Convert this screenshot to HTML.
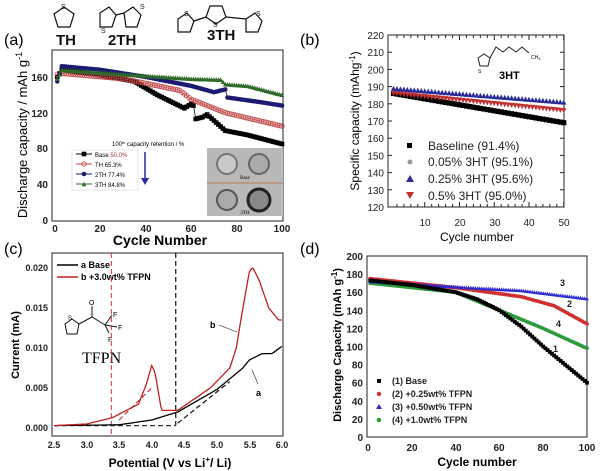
<!DOCTYPE html>
<html><head><meta charset="utf-8"><style>
html,body{margin:0;padding:0;background:#fff;}
svg{display:block;font-family:"Liberation Sans",Arial,sans-serif;}
</style></head><body>
<svg id="s" width="600" height="471" viewBox="0 0 600 471" xmlns="http://www.w3.org/2000/svg">
<rect width="600" height="471" fill="#fff"/>
<!-- molecules -->
<g fill="none" stroke="#111" stroke-width="1.2">
<polygon points="64,7 74,14 70,27 58,27 54,14"/>
<polygon points="100,13 109,7 116,15 112,27 100,27"/><polygon points="124,13 133,7 141,15 137,27 126,27"/><line x1="116" y1="15" x2="124" y2="13"/>
<polygon points="178,19 187,13 194,21 190,32 178,32"/><polygon points="210,6 222,6 226,17 216,24 206,17"/><polygon points="246,19 255,13 262,21 258,32 246,32"/>
<line x1="194" y1="21" x2="206" y2="17"/><line x1="226" y1="17" x2="246" y2="19"/>
</g>
<g font-size="7" fill="#111"><text x="61" y="9">S</text><text x="101" y="33">S</text><text x="140" y="9">S</text><text x="184" y="16">S</text><text x="213" y="27">S</text><text x="256" y="16">S</text></g>
<g font-weight="bold" font-size="15" fill="#111"><text x="56" y="45">TH</text><text x="108" y="45">2TH</text><text x="207" y="40">3TH</text></g>
<text x="4" y="45" font-size="16">(a)</text>
<text x="300" y="45" font-size="16">(b)</text>
<text x="4" y="254" font-size="16">(c)</text>
<text x="300" y="254" font-size="16">(d)</text>

<!-- panel a -->
<rect x="52" y="50" width="231" height="171" fill="none" stroke="#222" stroke-width="1"/>
<g font-size="10" font-weight="bold" text-anchor="end" fill="#222">
<text x="48" y="81">160</text><text x="48" y="117">120</text><text x="48" y="152">80</text><text x="48" y="188">40</text><text x="48" y="224">0</text></g>
<g font-size="10" font-weight="bold" text-anchor="middle" fill="#222">
<text x="55" y="232">0</text><text x="100" y="232">20</text><text x="146" y="232">40</text><text x="191" y="232">60</text><text x="237" y="232">80</text><text x="282" y="232">100</text></g>
<text x="160" y="245" font-size="14" font-weight="bold" text-anchor="middle">Cycle Number</text>
<text transform="translate(27,135) rotate(-90)" font-size="13" text-anchor="middle">Discharge capacity / mAh g<tspan font-size="9" dy="-5">-1</tspan></text>
<rect x="207" y="148" width="76" height="68" fill="#b8b8b8"/>
<circle cx="227" cy="164" r="10" fill="#c9c9c9" stroke="#777" stroke-width="2"/><circle cx="259" cy="164" r="10" fill="#aaa" stroke="#666" stroke-width="2"/>
<line x1="207" y1="183" x2="283" y2="183" stroke="#b87a50"/>
<circle cx="227" cy="200" r="10" fill="#aaa" stroke="#555" stroke-width="2"/><circle cx="259" cy="200" r="11" fill="#888" stroke="#222" stroke-width="3"/>
<text x="245" y="179" font-size="5" text-anchor="middle" font-family="Liberation Serif">Base</text>
<text x="245" y="214" font-size="5" text-anchor="middle" font-family="Liberation Serif">3TH</text>
<text x="112" y="146" font-size="6">100<tspan font-size="4" dy="-2">th</tspan><tspan dy="2"> capacity retention / %</tspan></text>
<line x1="145" y1="152" x2="145" y2="180" stroke="#2a2aa0" stroke-width="1.5"/><polygon points="141,178 149,178 145,185" fill="#2a2aa0"/>
<rect x="72" y="150" width="66" height="40" fill="#fff" stroke="#ccc" stroke-width="0.5"/>
<g font-size="6"><text x="95" y="157">Base <tspan fill="#a33">50.0%</tspan></text><text x="95" y="167">TH   65.3%</text><text x="95" y="177">2TH  77.4%</text><text x="95" y="187">3TH  84.8%</text></g>
<g id="ga"></g>
<!-- panel b -->
<rect x="388" y="35" width="176" height="172" fill="none" stroke="#222"/>
<g id="gbt"></g>
<g font-size="10" text-anchor="end" fill="#222" id="gby"></g>
<g font-size="10" text-anchor="middle" fill="#222"><text x="425" y="226">10</text><text x="460" y="226">20</text><text x="495" y="226">30</text><text x="529" y="226">40</text><text x="564" y="226">50</text></g>
<text x="477" y="241" font-size="12" text-anchor="middle">Cycle number</text>
<text transform="translate(359,121) rotate(-90)" font-size="12" text-anchor="middle">Specific capacity (mAhg<tspan font-size="8" dy="-4">-1</tspan><tspan dy="4">)</tspan></text>
<g fill="none" stroke="#222" stroke-width="1"><polygon points="478,58 484,54 490,58 488,66 480,66"/><path d="M490,58 L496,47 L503,52 L509,47 L516,52 L522,47 L529,53"/></g>
<text x="531" y="59" font-size="5">CH<tspan font-size="4" dy="1">3</tspan></text><text x="478" y="73" font-size="5">S</text>
<text x="499" y="79" font-size="11" font-weight="bold">3HT</text>
<g id="gb"></g>
<g font-size="12" fill="#222"><text x="428" y="150">Baseline (91.4%)</text><text x="428" y="166">0.05% 3HT (95.1%)</text><text x="428" y="183">0.25% 3HT (95.6%)</text><text x="428" y="200">0.5% 3HT (95.0%)</text></g>
<rect x="407" y="143" width="5" height="5" fill="#000"/><circle cx="410" cy="162" r="2.5" fill="#999"/><polygon points="406,182 414,182 410,175" fill="#2a2a9a"/><polygon points="406,192 414,192 410,199" fill="#c03030"/>
<!-- panel c -->
<rect x="52" y="253" width="231" height="183" fill="none" stroke="#222"/>
<g font-size="9" font-weight="bold" text-anchor="end" fill="#222"><text x="48" y="271">0.020</text><text x="48" y="311">0.015</text><text x="48" y="351">0.010</text><text x="48" y="391">0.005</text><text x="48" y="431">0.000</text></g>
<g font-size="9" font-weight="bold" text-anchor="middle" fill="#222"><text x="54" y="448">2.5</text><text x="87" y="448">3.0</text><text x="119" y="448">3.5</text><text x="152" y="448">4.0</text><text x="184" y="448">4.5</text><text x="217" y="448">5.0</text><text x="250" y="448">5.5</text><text x="282" y="448">6.0</text></g>
<text x="170" y="467" font-size="12" font-weight="bold" text-anchor="middle">Potential (V vs Li<tspan font-size="8" dy="-5">+</tspan><tspan dy="5">/ Li)</tspan></text>
<text transform="translate(19,345) rotate(-90)" font-size="11" font-weight="bold" text-anchor="middle">Current (mA)</text>
<line x1="57" y1="265" x2="78" y2="265" stroke="#000" stroke-width="1.5"/><line x1="57" y1="277" x2="78" y2="277" stroke="#c02020" stroke-width="1.5"/>
<text x="81" y="268" font-size="9" font-weight="bold">a Base</text><text x="81" y="280" font-size="9" font-weight="bold">b +3.0wt% TFPN</text>
<g fill="none" stroke="#111" stroke-width="1"><polygon points="72,319 79,324 77,334 67,334 65,324"/><path d="M79,324 L92,317 L105,325 L112,315 M105,325 L117,327 M105,325 L109,333 M92,317 L92,306"/></g>
<text x="68" y="320" font-size="6">S</text><text x="89" y="305" font-size="7">O</text><text x="113" y="317" font-size="7">F</text><text x="118" y="330" font-size="7">F</text><text x="108" y="342" font-size="7">F</text>
<text x="82" y="363" font-size="16" font-family="Liberation Serif">TFPN</text>
<g id="gc"></g>
<text x="210" y="328" font-size="9" font-weight="bold">b</text><line x1="219" y1="325" x2="237" y2="332" stroke="#222" stroke-width="0.6"/>
<text x="256" y="396" font-size="9" font-weight="bold">a</text><line x1="252" y1="370" x2="258" y2="384" stroke="#222" stroke-width="0.6"/>
<!-- panel d -->
<rect x="367" y="256" width="220" height="181" fill="none" stroke="#222"/>
<g font-size="10" font-weight="bold" text-anchor="end" fill="#222" id="gdy"></g>
<g font-size="10" font-weight="bold" text-anchor="middle" fill="#222"><text x="368" y="451">0</text><text x="412" y="451">20</text><text x="456" y="451">40</text><text x="499" y="451">60</text><text x="543" y="451">80</text><text x="587" y="451">100</text></g>
<text x="477" y="466" font-size="12" font-weight="bold" text-anchor="middle">Cycle number</text>
<text transform="translate(341,345) rotate(-90)" font-size="11" font-weight="bold" text-anchor="middle">Discharge Capacity (mAh g<tspan font-size="8" dy="-4">-1</tspan><tspan dy="4">)</tspan></text>
<g id="gd"></g>
<g font-size="9" font-weight="bold" fill="#222"><text x="392" y="384">(1) Base</text><text x="392" y="397">(2) +0.25wt% TFPN</text><text x="392" y="410">(3) +0.50wt% TFPN</text><text x="392" y="423">(4) +1.0wt% TFPN</text>
<text x="560" y="286">3</text><text x="567" y="307">2</text><text x="556" y="327">4</text><text x="553" y="352">1</text></g>
<rect x="377" y="379" width="4" height="4" fill="#000"/><circle cx="379" cy="394" r="2.2" fill="#d03030"/><polygon points="376,409 382,409 379,404" fill="#2a2ad0"/><circle cx="379" cy="420" r="2.2" fill="#2a9a3a"/>
</svg>
<script>
var NS="http://www.w3.org/2000/svg";
function el(p,t,a){var e=document.createElementNS(NS,t);for(var k in a)e.setAttribute(k,a[k]);document.getElementById(p).appendChild(e);return e;}
function interp(pts,x){for(var i=0;i<pts.length-1;i++){if(x<=pts[i+1][0]){var a=pts[i],b=pts[i+1];return a[1]+(b[1]-a[1])*(x-a[0])/(b[0]-a[0]);}}return pts[pts.length-1][1];}
function mk(g,shape,x,y,c,r){
 if(shape=="sq")el(g,"rect",{x:x-r,y:y-r,width:2*r,height:2*r,fill:c});
 else if(shape=="ci")el(g,"circle",{cx:x,cy:y,r:r,fill:c});
 else if(shape=="oc")el(g,"circle",{cx:x,cy:y,r:r,fill:"none",stroke:c,"stroke-width":0.8});
 else if(shape=="tu")el(g,"polygon",{points:(x-r)+","+(y+r)+" "+(x+r)+","+(y+r)+" "+x+","+(y-r),fill:c});
 else el(g,"polygon",{points:(x-r)+","+(y-r)+" "+(x+r)+","+(y-r)+" "+x+","+(y+r),fill:c});}
// a
var ax=function(c){return 55+2.27*c},ay=function(v){return 220-v*0.894};
var A=[
["#000","sq",[[1,160],[3,168],[20,162],[35,155],[45,140],[57,125],[60,130],[61,128],[62,113],[65,115],[67,118],[75,100],[85,95],[100,85]]],
["#c04545","oc",[[1,163],[3,164],[30,158],[55,145],[60,135],[75,120],[100,105]]],
["#1a1a70","ci",[[1,155],[3,172],[20,168],[40,160],[60,150],[70,143],[75,146],[76,137],[90,132],[100,128]]],
["#2f6a2a","tu",[[1,158],[3,168],[30,163],[60,158],[73,157],[75,152],[85,150],[100,140]]]];
A.forEach(function(s){var d="";for(var c=1;c<=100;c++){var y=interp(s[2],c);d+=(c==1?"M":"L")+ax(c)+","+ay(y);}
el("ga","path",{d:d,fill:"none",stroke:s[0],"stroke-width":0.8});
for(var c=1;c<=100;c++){var y=interp(s[2],c);mk("ga",s[1],ax(c),ay(y),s[0],2.3);}
el("ga","line",{x1:76,y1:154+10*A.indexOf(s),x2:92,y2:154+10*A.indexOf(s),stroke:s[0]});mk("ga",s[1],84,154+10*A.indexOf(s),s[0],2.3);});
// b
var bx=function(c){return 390+3.475*c},by=function(v){return 207-(v-120)*1.72};
for(var v=120;v<=220;v+=10){el("gby","text",{x:384,y:by(v)+4}).textContent=v;el("gbt","line",{x1:388,y1:by(v),x2:392,y2:by(v),stroke:"#222"});el("gbt","line",{x1:564,y1:by(v),x2:560,y2:by(v),stroke:"#222"});}
for(var c=2;c<=50;c+=2){el("gbt","line",{x1:bx(c),y1:207,x2:bx(c),y2:c%10==0?202:204,stroke:"#222"});el("gbt","line",{x1:bx(c),y1:35,x2:bx(c),y2:c%10==0?40:38,stroke:"#222"});}
[["#000","sq",186,169],["#c03030","td",186,176],["#2a2a9a","tu",189,181]].forEach(function(s){for(var c=1;c<=50;c++)mk("gb",s[1],bx(c),by(s[2]+(s[3]-s[2])*(c-1)/49),s[0],2.6);});
// c
var cx=function(v){return 54+(v-2.5)*65.1},cy=function(i){return 428-i*8000};
function curve(pts,col){var d="";for(var v=2.5;v<=6.001;v+=0.02){d+=(v==2.5?"M":"L")+cx(v).toFixed(1)+","+cy(interp(pts,v)).toFixed(1);}el("gc","path",{d:d,fill:"none",stroke:col,"stroke-width":1.3});}
el("gc","line",{x1:cx(3.38),y1:253,x2:cx(3.38),y2:436,stroke:"#c03030","stroke-dasharray":"5,3"});
el("gc","line",{x1:cx(4.37),y1:253,x2:cx(4.37),y2:cy(0.0003),stroke:"#111","stroke-dasharray":"5,3","stroke-width":1.2});
el("gc","line",{x1:54,y1:cy(0.0003),x2:cx(4.37),y2:cy(0.0003),stroke:"#333","stroke-dasharray":"5,3","stroke-width":1.2});
el("gc","line",{x1:cx(4.4),y1:cy(0.0006),x2:cx(5.2),y2:cy(0.0058),stroke:"#111","stroke-dasharray":"5,3","stroke-width":1.2});
el("gc","line",{x1:cx(3.5),y1:cy(0.001),x2:cx(4.0),y2:cy(0.005),stroke:"#c03030","stroke-dasharray":"5,3","stroke-width":1.2});
curve([[2.5,0.0003],[3.5,0.0004],[4.0,0.001],[4.4,0.002],[5.0,0.0048],[5.4,0.0075],[5.5,0.0085],[5.7,0.0093],[5.85,0.0093],[6.0,0.0102]],"#000");
curve([[2.5,0.0003],[3.0,0.0005],[3.4,0.0013],[3.8,0.003],[3.92,0.0055],[4.0,0.0078],[4.05,0.007],[4.15,0.0022],[4.4,0.0022],[4.9,0.005],[5.2,0.0075],[5.3,0.01],[5.38,0.014],[5.5,0.0195],[5.55,0.0201],[5.65,0.0185],[5.8,0.015],[5.95,0.0135],[6.0,0.0135]],"#c02020");
// d
var dx=function(c){return 368+2.19*c},dy=function(v){return 437-v*0.905};
for(var v=0;v<=200;v+=20){el("gdy","text",{x:363,y:dy(v)+4}).textContent=v;}
[["#2a9a3a","ci",[[1,170],[40,160],[60,140],[80,120],[100,98]]],["#d03030","ci",[[1,175],[40,165],[70,155],[85,145],[100,125]]],["#2a2ad0","tu",[[1,172],[40,166],[70,162],[100,153]]],["#000","sq",[[1,173],[20,168],[40,160],[50,152],[60,140],[70,122],[80,100],[90,80],[100,60]]]].forEach(function(s){for(var c=1;c<=100;c++)mk("gd",s[1],dx(c),dy(interp(s[2],c)),s[0],1.9);});
</script>
</body></html>
